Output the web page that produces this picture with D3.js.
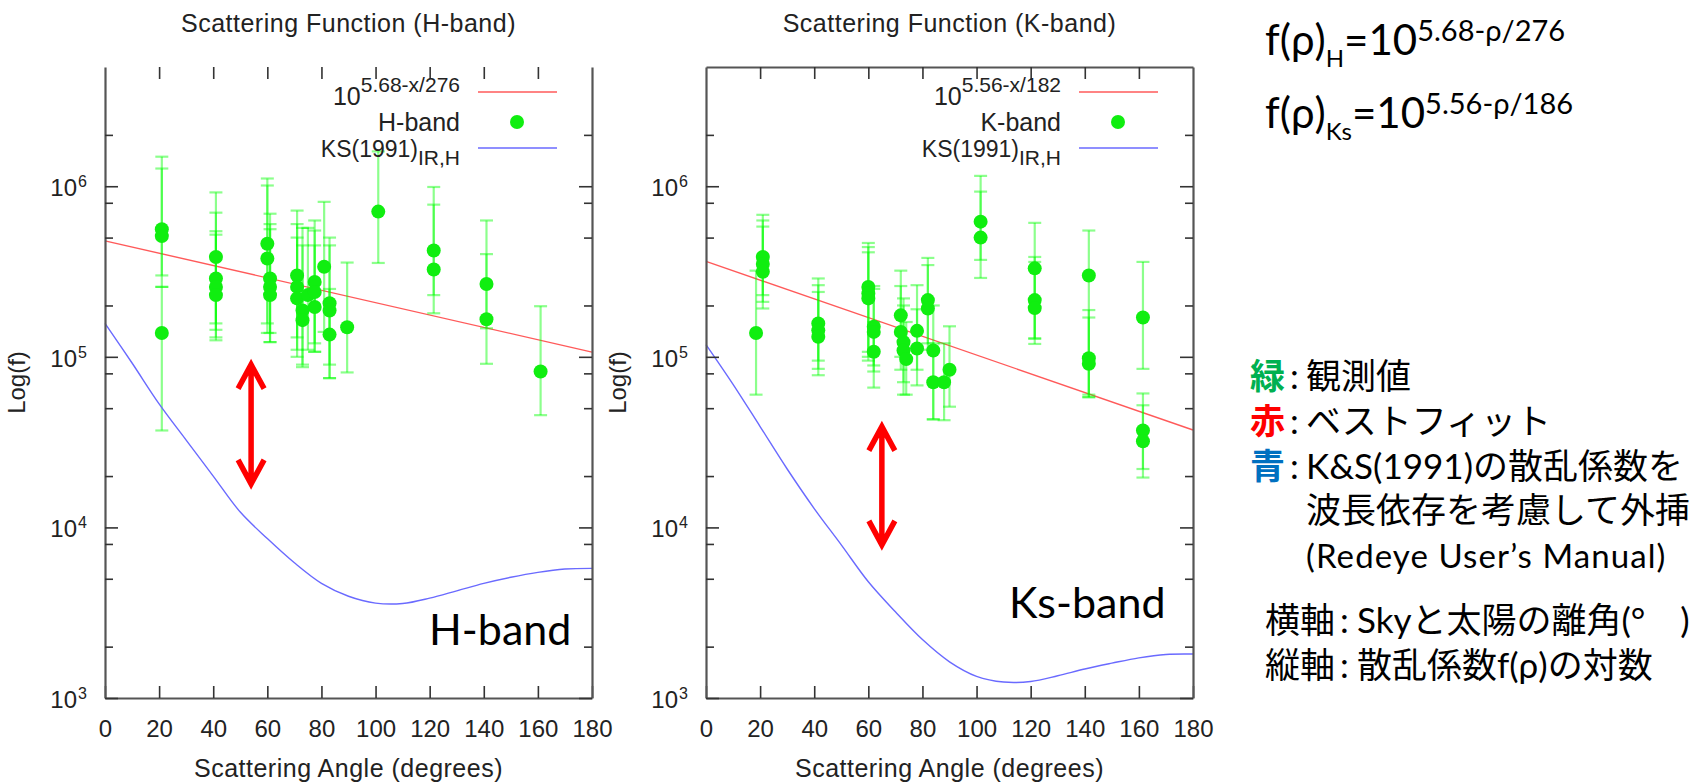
<!DOCTYPE html>
<html>
<head>
<meta charset="utf-8">
<script src="https://cdn.jsdelivr.net/npm/d3@7"></script>
<style>
body { margin: 0; background: #fff; }
svg text { font-family: "Liberation Sans", Arial, sans-serif; fill: #222; }
svg .note { font-family: Lato, "Noto Sans CJK JP", sans-serif; fill: #000; }
</style>
</head>
<body>
<svg id="chart" width="1699" height="784"></svg>
<script>
// axis ticks
var xTicks = [0, 20, 40, 60, 80, 100, 120, 140, 160, 180];
var yMajor = [1e3, 1e4, 1e5, 1e6];
var yMinor = [2e3, 5e3, 8e3, 2e4, 5e4, 8e4, 2e5, 5e5, 8e5, 2e6];

// H-band observations (angle, f, lower / upper error)
var hAngle = [21, 21, 21, 41, 41, 41, 41, 60, 60, 61, 61, 61, 71, 71, 71, 73, 73, 75, 77.5, 77.5, 77.5, 81, 83, 83, 83, 89.5, 101, 121.5, 121.5, 141, 141, 161];
var hValue = [5.6e5, 5.1e5, 1.38e5, 3.85e5, 2.88e5, 2.57e5, 2.3e5, 4.6e5, 3.77e5, 2.88e5, 2.57e5, 2.3e5, 3.0e5, 2.57e5, 2.2e5, 1.87e5, 1.64e5, 2.3e5, 2.75e5, 2.4e5, 1.96e5, 3.37e5, 2.06e5, 1.87e5, 1.35e5, 1.49e5, 7.1e5, 4.2e5, 3.25e5, 2.67e5, 1.66e5, 8.2e4];
var hLow   = [3.0e5, 2.57e5, 3.7e4, 1.57e5, 1.44e5, 1.25e5, 1.3e5, 1.38e5, 1.57e5, 1.22e5, 1.38e5, 1.22e5, 1.3e5, 1.1e5, 1.0e5, 8.7e4, 9.0e4, 1.1e5, 1.07e5, 1.2e5, 1.07e5, 1.4e5, 7.5e4, 9.0e4, 7.5e4, 8.1e4, 3.55e5, 1.8e5, 2.3e5, 1.47e5, 9.1e4, 4.55e4];
var hHigh  = [1.49e6, 1.27e6, 2.57e5, 9.2e5, 7.0e5, 5.45e5, 5.2e5, 1.11e6, 1.01e6, 6.9e5, 6.0e5, 5.6e5, 7.2e5, 6.0e5, 5.0e5, 5.7e5, 4.5e5, 5.7e5, 6.3e5, 5.5e5, 4.5e5, 8.1e5, 5.0e5, 4.5e5, 2.5e5, 3.57e5, 1.6e6, 9.9e5, 7.8e5, 6.3e5, 4.0e5, 1.98e5];

// K-band observations
var kAngle = [18.5, 21, 21, 21, 41.5, 41.5, 41.5, 60, 60, 60, 62, 62, 62, 72, 72, 73, 73, 74, 78, 78, 82, 82, 84, 84, 88, 90, 101.5, 101.5, 121.5, 121.5, 121.5, 141.5, 141.5, 141.5, 161.5, 161.5, 161.5];
var kValue = [1.38e5, 3.85e5, 3.5e5, 3.15e5, 1.57e5, 1.43e5, 1.31e5, 2.57e5, 2.35e5, 2.2e5, 1.5e5, 1.4e5, 1.07e5, 1.75e5, 1.4e5, 1.22e5, 1.09e5, 9.7e4, 1.42e5, 1.12e5, 2.15e5, 1.92e5, 1.09e5, 7.1e4, 7.1e4, 8.4e4, 6.2e5, 5.0e5, 3.3e5, 2.15e5, 1.93e5, 3.0e5, 9.8e4, 9.1e4, 1.7e5, 3.7e4, 3.2e4];
var kLow   = [6.0e4, 2.3e5, 2.1e5, 1.92e5, 9.5e4, 8.5e4, 7.8e4, 1.07e5, 1.0e5, 9.5e4, 8.9e4, 8.2e4, 6.6e4, 1.0e5, 8.4e4, 7.1e4, 6.0e4, 6.0e4, 8.4e4, 6.8e4, 1.2e5, 1.1e5, 4.3e4, 4.3e4, 4.25e4, 5.1e4, 3.7e5, 2.9e5, 1.28e5, 1.19e5, 1.28e5, 5.8e4, 5.8e4, 6.0e4, 8.5e4, 2.2e4, 1.96e4];
var kHigh  = [3.2e5, 6.8e5, 6.3e5, 5.8e5, 2.88e5, 2.63e5, 2.4e5, 4.65e5, 4.4e5, 4.1e5, 2.6e5, 2.5e5, 1.6e5, 3.2e5, 2.6e5, 2.2e5, 2.0e5, 1.6e5, 2.63e5, 1.9e5, 3.8e5, 3.45e5, 2.0e5, 1.2e5, 1.2e5, 1.51e5, 1.15e6, 9.3e5, 6.1e5, 3.85e5, 3.6e5, 5.5e5, 1.88e5, 1.7e5, 3.6e5, 6.1e4, 5.2e4];

// KS(1991) scattering function, extrapolated
var ksAngle = [0, 10, 20, 30, 40, 50, 60, 70, 80, 90, 100, 110, 120, 130, 140, 150, 160, 170, 180];
var ksH = [1.57e5, 9.2e4, 5.3e4, 3.25e4, 2.0e4, 1.23e4, 8.6e3, 6.2e3, 4.7e3, 3.95e3, 3.6e3, 3.58e3, 3.85e3, 4.25e3, 4.7e3, 5.1e3, 5.45e3, 5.7e3, 5.75e3];
var ksK = [1.18e5, 6.9e4, 3.9e4, 2.2e4, 1.29e4, 7.9e3, 4.8e3, 3.2e3, 2.2e3, 1.63e3, 1.34e3, 1.24e3, 1.25e3, 1.35e3, 1.48e3, 1.6e3, 1.72e3, 1.8e3, 1.81e3];

// best fit 10^(a - x/b)
var hFit = [5.68, 276];
var kFit = [5.56, 182];

// gap arrows: angle, top, bottom
var hArrow = [54, 9.0e4, 1.8e4];
var kArrow = [65, 3.9e4, 7.9e3];

var panels = [
  {left: 105, title: "Scattering Function (H-band)", name: "H-band", angle: hAngle, value: hValue, low: hLow, high: hHigh,
   fit: hFit, fitText: "5.68-x/276", ks: ksH, arrow: hArrow, topLine: false, label: "H-band", labelX: 429, labelY: 645},
  {left: 706, title: "Scattering Function (K-band)", name: "K-band", angle: kAngle, value: kValue, low: kLow, high: kHigh,
   fit: kFit, fitText: "5.56-x/182", ks: ksK, arrow: kArrow, topLine: true, label: "Ks-band", labelX: 1009, labelY: 618}
];

var plotW = 487, plotTop = 67, plotBottom = 698;
var svg = d3.select("#chart");
var y = d3.scaleLog().domain([1e3, 5e6]).range([plotBottom, plotTop]);

panels.forEach(function(p) {
  var x = d3.scaleLinear().domain([0, 180]).range([p.left, p.left + plotW]);
  var g = svg.append("g");

  g.append("text")
    .attr("x", p.left + plotW / 2).attr("y", 32)
    .attr("text-anchor", "middle").attr("font-size", 25).attr("letter-spacing", 0.5)
    .text(p.title);

  // fit line
  var fitLine = d3.line()
    .x(function(d) { return x(d); })
    .y(function(d) { return y(Math.pow(10, p.fit[0] - d / p.fit[1])); });
  g.append("path").datum([0, 180])
    .attr("d", fitLine).attr("fill", "none")
    .attr("stroke", "#ff5a5a").attr("stroke-width", 1.4);

  var pts = p.angle.map(function(a, i) {
    return {a: a, v: p.value[i], lo: p.low[i], hi: p.high[i]};
  });

  var eb = g.append("g")
    .attr("stroke", "#00ff00").attr("stroke-opacity", 0.45).attr("stroke-width", 2.2);
  eb.selectAll(".bar").data(pts).enter().append("line")
    .attr("x1", function(d) { return x(d.a); })
    .attr("x2", function(d) { return x(d.a); })
    .attr("y1", function(d) { return y(d.lo); })
    .attr("y2", function(d) { return y(d.hi); });
  ["lo", "hi"].forEach(function(k) {
    eb.selectAll(".cap" + k).data(pts).enter().append("line")
      .attr("x1", function(d) { return x(d.a) - 6.5; })
      .attr("x2", function(d) { return x(d.a) + 6.5; })
      .attr("y1", function(d) { return y(d[k]); })
      .attr("y2", function(d) { return y(d[k]); });
  });

  g.selectAll(".pt").data(pts).enter().append("circle")
    .attr("cx", function(d) { return x(d.a); })
    .attr("cy", function(d) { return y(d.v); })
    .attr("r", 7).attr("fill", "#10ee10");

  // KS curve
  var ksLine = d3.line()
    .x(function(d, i) { return x(ksAngle[i]); })
    .y(function(d) { return y(d); })
    .curve(d3.curveCatmullRom.alpha(0.5));
  g.append("path").datum(p.ks)
    .attr("d", ksLine).attr("fill", "none")
    .attr("stroke", "#6a6aff").attr("stroke-width", 1.4);

  // axes
  function styleAxis(sel, keepDomain) {
    sel.selectAll(".tick line").attr("stroke", "#333").attr("stroke-width", 1.6);
    sel.select(".domain").attr("stroke", keepDomain ? "#555" : "none").attr("stroke-width", 2.2);
  }
  var axB = g.append("g").attr("transform", "translate(0," + plotBottom + ")")
    .call(d3.axisBottom(x).tickValues(xTicks).tickSize(-12).tickSizeOuter(0).tickPadding(22));
  styleAxis(axB, true);
  axB.selectAll(".tick text").attr("font-size", 24).attr("fill", "#222").attr("font-family", "Liberation Sans, Arial, sans-serif");

  var axT = g.append("g").attr("transform", "translate(0," + plotTop + ")")
    .call(d3.axisTop(x).tickValues(xTicks.slice(1, -1)).tickSize(-12).tickSizeOuter(0).tickFormat(""));
  styleAxis(axT, p.topLine);

  [["L", p.left], ["R", p.left + plotW]].forEach(function(s) {
    var mk = s[0] === "L" ? d3.axisLeft : d3.axisRight;
    var major = g.append("g").attr("transform", "translate(" + s[1] + ",0)")
      .call(mk(y).tickValues(yMajor).tickSize(-13).tickSizeOuter(0).tickFormat(""));
    styleAxis(major, true);
    var minor = g.append("g").attr("transform", "translate(" + s[1] + ",0)")
      .call(mk(y).tickValues(yMinor).tickSize(-8).tickSizeOuter(0).tickFormat(""));
    styleAxis(minor, false);
  });

  yMajor.forEach(function(v) {
    g.append("text").attr("x", p.left - 28).attr("y", y(v) + 10)
      .attr("text-anchor", "end").attr("font-size", 24).text("10");
    g.append("text").attr("x", p.left - 27).attr("y", y(v) + 1)
      .attr("font-size", 16).text(Math.round(Math.log10(v)));
  });

  g.append("text")
    .attr("transform", "translate(" + (p.left - 80) + "," + ((plotTop + plotBottom) / 2) + ") rotate(-90)")
    .attr("text-anchor", "middle").attr("font-size", 24)
    .text("Log(f)");

  g.append("text")
    .attr("x", p.left + plotW / 2).attr("y", 777)
    .attr("text-anchor", "middle").attr("font-size", 25).attr("letter-spacing", 0.5)
    .text("Scattering Angle (degrees)");

  // legend
  var lx = p.left + 355, l1 = plotTop + 25, l2 = plotTop + 55, l3 = plotTop + 81;
  var t1 = g.append("text").attr("x", lx).attr("y", l1 + 13).attr("text-anchor", "end").attr("font-size", 25);
  t1.append("tspan").text("10");
  t1.append("tspan").attr("dy", -13).attr("font-size", 21).text(p.fitText);
  g.append("line").attr("x1", lx + 18).attr("x2", lx + 97).attr("y1", l1).attr("y2", l1)
    .attr("stroke", "#ff5a5a").attr("stroke-width", 1.6);

  g.append("text").attr("x", lx).attr("y", l2 + 8.5).attr("text-anchor", "end").attr("font-size", 25).text(p.name);
  g.append("circle").attr("cx", lx + 57).attr("cy", l2).attr("r", 7).attr("fill", "#10ee10");

  var t3 = g.append("text").attr("x", lx).attr("y", l3 + 9).attr("text-anchor", "end").attr("font-size", 23);
  t3.append("tspan").text("KS(1991)");
  t3.append("tspan").attr("dy", 8).attr("font-size", 21).text("IR,H");
  g.append("line").attr("x1", lx + 18).attr("x2", lx + 97).attr("y1", l3).attr("y2", l3)
    .attr("stroke", "#6a6aff").attr("stroke-width", 1.6);

  // red double arrow
  var ax = x(p.arrow[0]), ay1 = y(p.arrow[1]), ay2 = y(p.arrow[2]);
  g.append("path")
    .attr("d", "M" + ax + "," + (ay1 + 2) + "V" + (ay2 - 2) +
      "M" + (ax - 13) + "," + (ay1 + 24) + "L" + ax + "," + ay1 + "L" + (ax + 13) + "," + (ay1 + 24) +
      "M" + (ax - 13) + "," + (ay2 - 24) + "L" + ax + "," + ay2 + "L" + (ax + 13) + "," + (ay2 - 24))
    .attr("fill", "none").attr("stroke", "#ff0000").attr("stroke-width", 5.5)
    .attr("stroke-linejoin", "miter").attr("stroke-linecap", "butt");

  g.append("text").attr("class", "note")
    .attr("x", p.labelX).attr("y", p.labelY).attr("font-size", 43)
    .text(p.label);
});

// formulas
var formulas = [
  {sub: "H", exp: "5.68-ρ/276", y: 55},
  {sub: "Ks", exp: "5.56-ρ/186", y: 128}
];
formulas.forEach(function(f) {
  var t = svg.append("text").attr("class", "note").attr("x", 1265).attr("y", f.y).attr("font-size", 42);
  t.append("tspan").text("f(ρ)");
  t.append("tspan").attr("dy", 12).attr("font-size", 24).text(f.sub);
  t.append("tspan").attr("dy", -12).text("=10");
  t.append("tspan").attr("dy", -14).attr("font-size", 29).text(f.exp);
});

// Japanese legend notes
var keyChars = ["緑", "赤", "青"];
var keyColors = ["#00b050", "#ff0000", "#0070c0"];
var keyText = ["観測値", "ベストフィット", "K&S(1991)の散乱係数を"];
var keyBase = [389, 434, 479];
keyChars.forEach(function(c, i) {
  svg.append("text").attr("class", "note").attr("x", 1250).attr("y", keyBase[i])
    .attr("font-size", 35).style("fill", keyColors[i]).style("font-weight", "bold").text(c);
  svg.append("text").attr("class", "note").attr("x", 1290).attr("y", keyBase[i]).attr("font-size", 35).text(":");
  svg.append("text").attr("class", "note").attr("x", 1306).attr("y", keyBase[i]).attr("font-size", 35).text(keyText[i]);
});
svg.append("text").attr("class", "note").attr("x", 1306).attr("y", 523).attr("font-size", 35).text("波長依存を考慮して外挿");
svg.append("text").attr("class", "note").attr("x", 1306).attr("y", 568).attr("font-size", 33)
  .attr("letter-spacing", 1.1).text("(Redeye User’s Manual)");

var axisHead = ["横軸", "縦軸"];
var axisText = ["Skyと太陽の離角(°　)", "散乱係数f(ρ)の対数"];
var axisBase = [633, 678];
axisHead.forEach(function(h, i) {
  svg.append("text").attr("class", "note").attr("x", 1265).attr("y", axisBase[i]).attr("font-size", 35).text(h);
  svg.append("text").attr("class", "note").attr("x", 1340).attr("y", axisBase[i]).attr("font-size", 35).text(":");
  svg.append("text").attr("class", "note").attr("x", 1357).attr("y", axisBase[i]).attr("font-size", 35).text(axisText[i]);
});
</script>
</body>
</html>
